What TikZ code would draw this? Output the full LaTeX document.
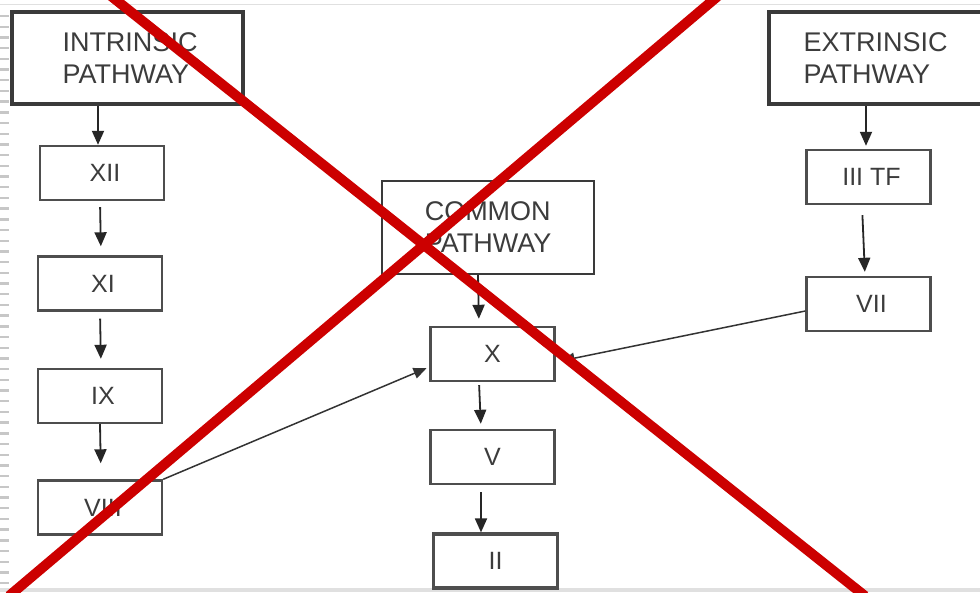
\documentclass[tikz,border=0pt]{standalone}
\usepackage{fontspec}
\setmainfont{Liberation Sans}
\usetikzlibrary{arrows.meta,calc}
\definecolor{boxline}{HTML}{3A3A3A}
\definecolor{txt}{HTML}{3C3C3C}
\definecolor{crossred}{HTML}{CC0000}
\tikzset{
  stepbox/.style={draw=boxline!90,line width=2.4pt,inner sep=0pt,minimum width=124pt,minimum height=54pt,text=txt,font=\fontsize{25}{25}\selectfont},
  bigbox/.style={draw=boxline,line width=3.4pt,inner sep=0pt,text=txt,align=left,font=\fontsize{27}{32}\selectfont},
  flow/.style={draw=black!85,line width=1.8pt,-{Triangle[length=14pt,width=12pt]}},
  link/.style={draw=black!80,line width=1.5pt,-{Triangle[length=13pt,width=11pt]}},
  cross/.style={draw=crossred,line width=10pt},
}
\begin{document}
\begin{tikzpicture}[x=1pt,y=-1pt]
\useasboundingbox (0,0) rectangle (980,592);
\fill[white] (0,0) rectangle (980,592);
% scanned-page edges
\draw[black!12,line width=1pt] (0,4) -- (980,4);
\fill[black!12] (0,588) rectangle (980,592);
\foreach \k in {0,...,53}{
  \draw[black!22,line width=2.4pt] (0,{16+10.7*\k}) -- (9,{16+10.7*\k});
}
% boxes
\node[bigbox,minimum width=231pt,minimum height=92pt] (intr) at (127.5,58) {\hspace{5pt}INTRINSIC\\\hspace{5pt}PATHWAY};
\node[bigbox,minimum width=213pt,minimum height=92pt] (extr) at (875.5,58) {EXTRINSIC\\PATHWAY};
\node[bigbox,line width=2.4pt,minimum width=212pt,minimum height=93pt] (comm) at (488,227.5) {COMMON\\PATHWAY\hspace{14pt}};
\node[stepbox] (xii) at (102,173) {\hspace{6pt}XII};
\node[stepbox] (xi) at (100,283.5) {\hspace{6pt}XI};
\node[stepbox] (ix) at (100,396) {\hspace{6pt}IX};
\node[stepbox] (viii) at (100,507.5) {\hspace{6pt}VIII};
\node[stepbox] (x) at (492.5,354) {X};
\node[stepbox] (v) at (492.5,457) {V};
\node[stepbox,line width=3.2pt] (ii) at (495.5,561) {II};
\node[stepbox] (iiitf) at (868.5,177) {\hspace{6pt}III TF};
\node[stepbox] (vii) at (868.5,304) {\hspace{6pt}VII};
% connectors
\draw[flow] (intr.south -| 98,0) -- (xii.north -| 98,0);
\draw[flow,shorten <=6pt,shorten >=9pt] (xii.south -| 100,0) -- (xi.north -| 101,0);
\draw[flow,shorten <=7pt,shorten >=9pt] (xi.south -| 100,0) -- (ix.north -| 101,0);
\draw[flow,shorten >=16pt] (ix.south -| 100,0) -- (viii.north -| 101,0);
\draw[flow,shorten >=7pt] (comm.south -| 478,0) -- (x.north -| 479,0);
\draw[flow,shorten <=3pt,shorten >=5pt] (x.south -| 479,0) -- (v.north -| 481,0);
\draw[flow,shorten <=7pt] (v.south -| 481,0) -- (ii.north -| 481,0);
\draw[flow,shorten >=3pt] (extr.south -| 866,0) -- (iiitf.north -| 866,0);
\draw[flow,shorten <=10pt,shorten >=4pt] (iiitf.south -| 862,0) -- (vii.north -| 865,0);
\draw[link,shorten >=3pt] (viii.north east) -- ([yshift=-13pt]x.west);
\draw[link,shorten >=6pt] ([yshift=-7pt]vii.west) -- ([yshift=-8pt]x.east);
% red cross
\draw[cross] (111,-4) -- (865,596);
\draw[cross] (718,-4) -- (9,596);
\end{tikzpicture}
\end{document}
